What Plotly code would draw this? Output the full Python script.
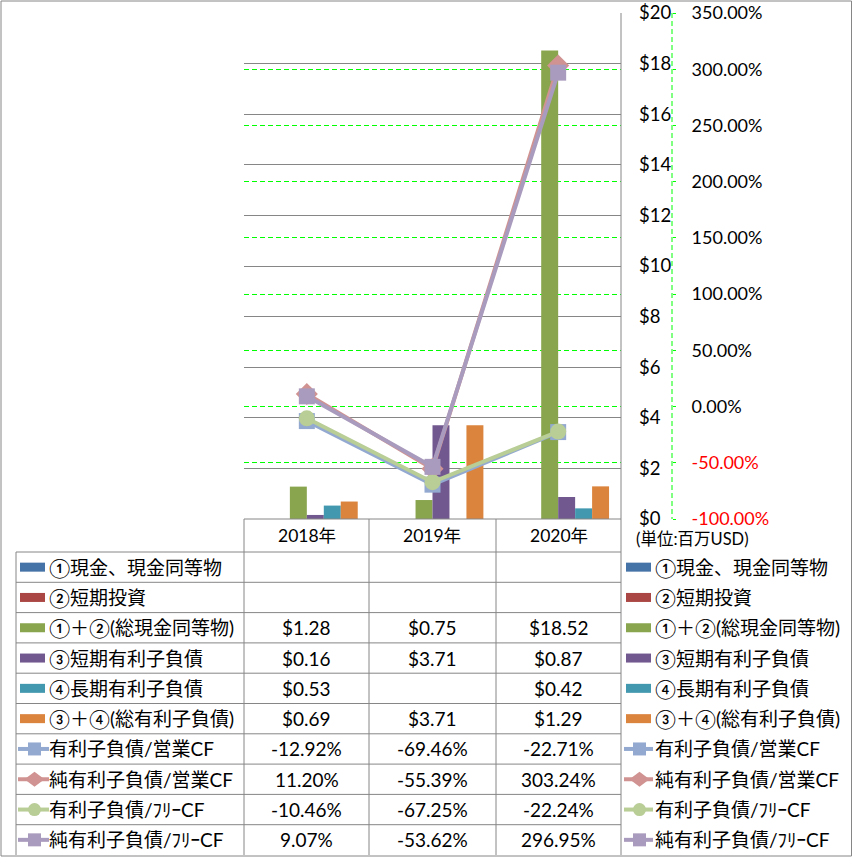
import plotly.graph_objects as go

W, H = 853, 858

categories = ["2018年", "2019年", "2020年"]

bar_names = ["①現金、現金同等物", "②短期投資", "①＋②(総現金同等物)",
             "③短期有利子負債", "④長期有利子負債", "③＋④(総有利子負債)"]
bar_colors = ["#4572A7", "#AA4643", "#89A54E", "#71588F", "#4198AF", "#DB843D"]
cash = [None, None, None]
short_inv = [None, None, None]
total_cash = [1.28, 0.75, 18.52]
short_debt = [0.16, 3.71, 0.87]
long_debt = [0.53, None, 0.42]
total_debt = [0.69, 3.71, 1.29]
bar_values = [cash, short_inv, total_cash, short_debt, long_debt, total_debt]

line_names = ["有利子負債/営業CF", "純有利子負債/営業CF", "有利子負債/ﾌﾘｰCF", "純有利子負債/ﾌﾘｰCF"]
line_colors = ["#93A9D0", "#D09391", "#B9CD96", "#A99BBD"]
line_symbols = ["square", "diamond", "circle", "square"]
line_msizes = [16, 17, 16, 16]
debt_ocf = [-12.92, -69.46, -22.71]
net_debt_ocf = [11.20, -55.39, 303.24]
debt_fcf = [-10.46, -67.25, -22.24]
net_debt_fcf = [9.07, -53.62, 296.95]
line_values = [debt_ocf, net_debt_ocf, debt_fcf, net_debt_fcf]

y1_ticks = list(range(0, 21, 2))
y2_ticks = list(range(-100, 351, 50))

FONT = "Lato, 'Noto Sans CJK JP', sans-serif"
GRAY = "#868686"
GREEN = "#00FF00"


def X(p):
    return p / W


def Y(p):
    return 1 - p / H


fig = go.Figure()
for name, vals, col in zip(bar_names, bar_values, bar_colors):
    fig.add_trace(go.Bar(x=categories, y=vals, name=name, marker_color=col,
                         marker_line_width=0, yaxis="y"))
for name, vals, col, sym, ms in zip(line_names, line_values, line_colors, line_symbols, line_msizes):
    fig.add_trace(go.Scatter(x=categories, y=vals, name=name, yaxis="y2",
                             mode="lines+markers", line=dict(color=col, width=4),
                             marker=dict(symbol=sym, size=ms, color=col, line_width=0)))

shapes = []
ann = []


def hline(x0, x1, y, color=GRAY, width=1, dash=None):
    shapes.append(dict(type="line", xref="paper", yref="paper", x0=X(x0), x1=X(x1),
                       y0=Y(y), y1=Y(y), line=dict(color=color, width=width, dash=dash)))


def vline(x, y0, y1, color=GRAY, width=1, dash=None):
    shapes.append(dict(type="line", xref="paper", yref="paper", x0=X(x), x1=X(x),
                       y0=Y(y0), y1=Y(y1), line=dict(color=color, width=width, dash=dash)))


def text(x, y, t, size=19, anchor="left"):
    ann.append(dict(xref="paper", yref="paper", x=X(x), y=Y(y), text=t, showarrow=False,
                    xanchor=anchor, yanchor="middle",
                    font=dict(size=size, family=FONT, color="#000")))


# outer border
shapes.append(dict(type="rect", xref="paper", yref="paper", x0=X(1), x1=X(851.5),
                   y0=Y(856), y1=Y(1), line=dict(color=GRAY, width=1)))
# plot right border and secondary axis line
vline(621, 13, 519)
vline(672, 13, 519, color=GREEN, dash="5px,3px")

# table grid
row_top0 = 552
row_h = 30.3
n_rows = len(bar_names) + len(line_names)
cols = [244, 369, 496, 621]
hline(244, 621, 519)
for k in range(n_rows):
    hline(16, 621, row_top0 + row_h * k)
for c in cols:
    vline(c, 519, 855)
vline(16, 552, 855)

# header
for i, cat in enumerate(categories):
    text((cols[i] + cols[i + 1]) / 2, 535.5, cat, size=17.5, anchor="center")


def key(kind, idx, x0, x1, yc):
    if kind == "bar":
        shapes.append(dict(type="rect", xref="paper", yref="paper", x0=X(x0), x1=X(x1),
                           y0=Y(yc + 4.5), y1=Y(yc - 4.5), fillcolor=bar_colors[idx],
                           line_width=0))
    else:
        col = line_colors[idx]
        shapes.append(dict(type="line", xref="paper", yref="paper", x0=X(x0), x1=X(x1),
                           y0=Y(yc), y1=Y(yc), line=dict(color=col, width=4)))
        mc = (x0 + x1) / 2 + 1
        sym = line_symbols[idx]
        if sym == "square":
            shapes.append(dict(type="rect", xref="paper", yref="paper", x0=X(mc - 6.5), x1=X(mc + 6.5),
                               y0=Y(yc + 6.5), y1=Y(yc - 6.5), fillcolor=col, line_width=0))
        elif sym == "circle":
            shapes.append(dict(type="circle", xref="paper", yref="paper", x0=X(mc - 6.5), x1=X(mc + 6.5),
                               y0=Y(yc + 6.5), y1=Y(yc - 6.5), fillcolor=col, line_width=0))
        else:
            path = "M {} {} L {} {} L {} {} L {} {} Z".format(
                X(mc - 10), Y(yc), X(mc), Y(yc - 7.5), X(mc + 10), Y(yc), X(mc), Y(yc + 7.5))
            shapes.append(dict(type="path", xref="paper", yref="paper", path=path,
                               fillcolor=col, line_width=0))


rows = []
for i, (n, v) in enumerate(zip(bar_names, bar_values)):
    rows.append(("bar", i, n, ["" if a is None else "${:.2f}".format(a) for a in v]))
for i, (n, v) in enumerate(zip(line_names, line_values)):
    rows.append(("line", i, n, ["" if a is None else "{:.2f}%".format(a) for a in v]))

for k, (kind, idx, name, texts) in enumerate(rows):
    yc = row_top0 + row_h * k + row_h / 2
    if kind == "bar":
        key(kind, idx, 20, 45, yc)
    else:
        key(kind, idx, 18, 49, yc)
    text(47, yc, name, size=19)
    for i, t in enumerate(texts):
        if t:
            text((cols[i] + cols[i + 1]) / 2, yc, t, size=19, anchor="center")
    if kind == "bar":
        key(kind, idx, 626, 651, yc)
    else:
        key(kind, idx, 624, 653, yc)
    text(653, yc, name, size=19)

text(634, 539, "(単位:百万USD)", size=16.5)

y2_text = []
for v in y2_ticks:
    s = "{:.2f}%".format(v)
    if v < 0:
        s = "<span style='color:#FF0000'>" + s + "</span>"
    y2_text.append(s)

fig.update_layout(
    width=W, height=H, autosize=False,
    margin=dict(l=0, r=0, t=0, b=0, pad=0),
    paper_bgcolor="white", plot_bgcolor="white",
    barmode="group", bargap=0.19, bargroupgap=0,
    showlegend=False,
    font=dict(family=FONT, size=18, color="#000"),
    xaxis=dict(domain=[X(244), X(621)], type="category", showticklabels=False,
               showgrid=False, zeroline=False, showline=False, ticks="",
               automargin=False, fixedrange=True),
    yaxis=dict(domain=[Y(519), Y(13)], range=[0, 20], tickvals=y1_ticks,
               ticktext=["${}".format(v) for v in y1_ticks], side="right",
               showgrid=True, gridcolor=GRAY, gridwidth=1, zeroline=False,
               showline=False, ticks="", ticklabelstandoff=17,
               tickfont=dict(size=18.5, family=FONT, color="#000"), automargin=False),
    yaxis2=dict(overlaying="y", range=[-100, 350], tickvals=y2_ticks, ticktext=y2_text,
                side="right", anchor="free", position=X(672),
                showgrid=True, gridcolor=GREEN, gridwidth=1, griddash="5px,3px",
                zeroline=False, showline=False, ticks="outside", ticklen=3,
                tickcolor=GREEN, ticklabelstandoff=12,
                tickfont=dict(size=18, family=FONT, color="#000"), automargin=False),
    shapes=shapes,
    annotations=ann,
)

fig.write_html("out.html")
